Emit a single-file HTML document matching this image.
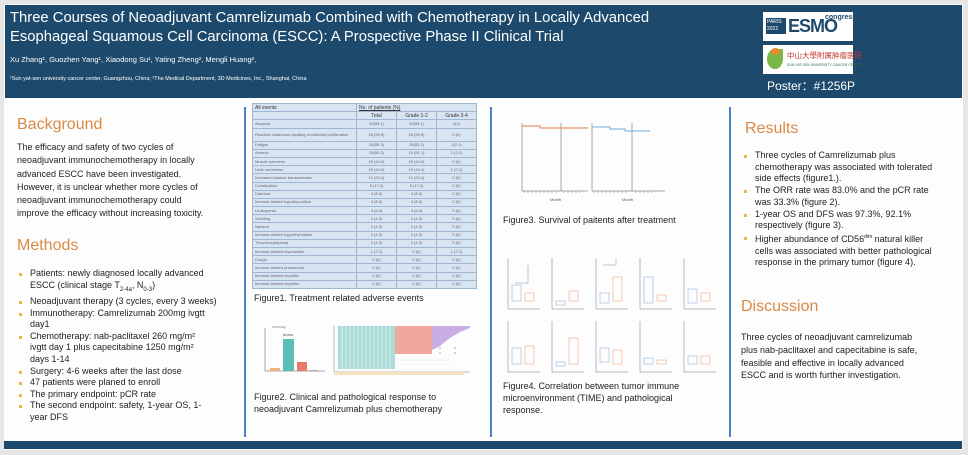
<!DOCTYPE html>
<html><head><meta charset="utf-8"><style>
*{margin:0;padding:0;box-sizing:border-box}
body{width:968px;height:455px;background:#e6e6e6;position:relative;overflow:hidden;font-family:"Liberation Sans",sans-serif;color:#222}
.poster{position:absolute;left:4px;top:4px;width:959px;height:446px;background:#fdfdfd}
.hdr{position:absolute;left:5px;top:5px;width:957px;height:93px;background:#1d4a6c;color:#fff}
.a{position:absolute;white-space:nowrap}
.h{color:#d98a45;font-size:16px}
.t{font-size:9px;line-height:13.3px;color:#222}
.vl{position:absolute;top:107px;width:2px;height:330px;background:#4f7fc4}
ul{list-style:none}
li{position:relative;padding-left:13px}
li:before{content:"";position:absolute;left:2px;top:5px;width:3px;height:3px;background:#e8b84a}
table{border-collapse:collapse;font-size:4px;line-height:6px;color:#667;table-layout:fixed}
td{border:1px solid #9fb6d3;height:8.2px;background:#d8e4f2;padding:0 2px;overflow:hidden;white-space:nowrap}
td.c{text-align:center}
.cap{font-size:9px;line-height:12px;color:#222}
</style></head><body>
<div class="poster"></div>
<div class="hdr">
<div class="a" style="left:5px;top:4px;font-size:14.8px;line-height:19px">Three Courses of Neoadjuvant Camrelizumab Combined with Chemotherapy in Locally Advanced<br>Esophageal Squamous Cell Carcinoma (ESCC): A Prospective Phase II Clinical Trial</div>
<div class="a" style="left:5px;top:50px;font-size:7.5px">Xu Zhang¹, Guozhen Yang¹, Xiaodong Su¹, Yating Zheng², Mengli Huang²,</div>
<div class="a" style="left:5px;top:71px;font-size:5.5px">¹Sun yat-sen university cancer center, Guangzhou, China; ²The Medical Department, 3D Medicines, Inc., Shanghai, China</div>
<div class="a" style="left:758px;top:7px;width:90px;height:29px;background:#fff">
<div class="a" style="left:3px;top:6px;width:20px;height:16px;background:#1d4a6c;color:#fff;font-size:5px;line-height:7px;padding:1px">PARIS<br>2022</div>
<div class="a" style="left:25px;top:4px;font-size:18px;font-weight:bold;color:#1d4a6c;letter-spacing:-1px">ESMO</div>
<div class="a" style="left:62px;top:2px;font-size:7px;color:#1d4a6c;font-weight:bold">congress</div></div>
<div class="a" style="left:758px;top:40px;width:90px;height:29px;background:#fff">
<div class="a" style="left:4px;top:4px;width:16px;height:20px;border-radius:50% 0 50% 50%;background:#7ab648"></div>
<div class="a" style="left:8px;top:3px;width:9px;height:7px;background:#e98c2c;border-radius:50%"></div>
<div class="a" style="left:24px;top:5px;font-size:7.5px;color:#c0392b;font-family:'Noto Sans CJK SC',sans-serif">中山大學附属肿瘤医院</div>
<div class="a" style="left:24px;top:18px;font-size:3.5px;color:#2a6a3a">SUN YAT-SEN UNIVERSITY CANCER CENTER</div></div>
<div class="a" style="left:762px;top:72px;font-size:12px;font-family:'Liberation Sans','Noto Sans CJK SC',sans-serif">Poster：#1256P</div>
</div>
<div class="vl" style="left:244px"></div><div class="vl" style="left:490px"></div><div class="vl" style="left:729px"></div>
<div class="a" style="left:4px;top:441px;width:958px;height:8px;background:#1d4a6c"></div>

<div class="a h" style="left:17px;top:116px">Background</div>
<div class="a t" style="left:17px;top:141px">The efficacy and safety of two cycles of<br>neoadjuvant immunochemotherapy in locally<br>advanced ESCC have been investigated.<br>However, it is unclear whether more cycles of<br>neoadjuvant immunochemotherapy could<br>improve the efficacy without increasing toxicity.</div>
<div class="a h" style="left:17px;top:237px">Methods</div>
<ul class="a t" style="left:17px;top:268px;line-height:11.6px">
<li>Patients: newly diagnosed locally advanced<br>ESCC (clinical stage T<sub style="font-size:6px">2-4a</sub>, N<sub style="font-size:6px">0-3</sub>)</li>
<li>Neoadjuvant therapy (3 cycles, every 3 weeks)</li>
<li>Immunotherapy: Camrelizumab 200mg ivgtt<br>day1</li>
<li>Chemotherapy: nab-paclitaxel 260 mg/m²<br>ivgtt day 1 plus capecitabine 1250 mg/m²<br>days 1-14</li>
<li>Surgery: 4-6 weeks after the last dose</li>
<li>47 patients were planed to enroll</li>
<li>The primary endpoint: pCR rate</li>
<li>The second endpoint: safety, 1-year OS, 1-<br>year DFS</li></ul>

<table class="a" style="left:252px;top:103px;width:224px">
<colgroup><col style="width:104px"><col style="width:40px"><col style="width:40px"><col style="width:40px"></colgroup>
<tr><td style="font-size:5px;color:#333">All events</td><td colspan="3" style="font-size:5px;color:#333;text-decoration:underline">No. of patients (%)</td></tr>
<tr><td></td><td class="c" style="font-size:5px;color:#333">Total</td><td class="c" style="font-size:5px;color:#333">Grade 1-2</td><td class="c" style="font-size:5px;color:#333">Grade 3-4</td></tr>
<tr><td>Alopecia</td><td class="c">33(68.1)</td><td class="c">33(68.1)</td><td class="c">0(0)</td></tr>
<tr><td style="height:13px;white-space:normal;line-height:5px">Reactive cutaneous capillary endothelial proliferation</td><td class="c">28 (59.6)</td><td class="c">28 (59.6)</td><td class="c">0 (0)</td></tr>
<tr><td>Fatigue</td><td class="c">26(55.3)</td><td class="c">25(53.2)</td><td class="c">1(2.1)</td></tr>
<tr><td>Anemia</td><td class="c">25(53.2)</td><td class="c">24 (51.1)</td><td class="c">1 (2.1)</td></tr>
<tr><td>Muscle soreness</td><td class="c">20 (42.6)</td><td class="c">20 (42.6)</td><td class="c">0 (0)</td></tr>
<tr><td>Limb numbness</td><td class="c">20 (42.6)</td><td class="c">19 (40.4)</td><td class="c">1 (2.1)</td></tr>
<tr><td>Increased alanine transaminase</td><td class="c">11 (23.4)</td><td class="c">11 (23.4)</td><td class="c">0 (0)</td></tr>
<tr><td>Constipation</td><td class="c">8 (17.0)</td><td class="c">8 (17.0)</td><td class="c">0 (0)</td></tr>
<tr><td>Diarrhea</td><td class="c">4 (8.5)</td><td class="c">4 (8.5)</td><td class="c">0 (0)</td></tr>
<tr><td>Immune-related hypothyroidism</td><td class="c">4 (8.5)</td><td class="c">4 (8.5)</td><td class="c">0 (0)</td></tr>
<tr><td>Leukopenia</td><td class="c">3 (6.4)</td><td class="c">3 (6.4)</td><td class="c">0 (0)</td></tr>
<tr><td>Vomiting</td><td class="c">2 (4.3)</td><td class="c">2 (4.3)</td><td class="c">0 (0)</td></tr>
<tr><td>Nausea</td><td class="c">2 (4.3)</td><td class="c">2 (4.3)</td><td class="c">0 (0)</td></tr>
<tr><td>Immune-related hyperthyroidism</td><td class="c">2 (4.3)</td><td class="c">2 (4.3)</td><td class="c">0 (0)</td></tr>
<tr><td>Thrombocytopenia</td><td class="c">2 (4.3)</td><td class="c">2 (4.3)</td><td class="c">0 (0)</td></tr>
<tr><td>Immune-related myocarditis</td><td class="c">1 (2.1)</td><td class="c">0 (0)</td><td class="c">1 (2.1)</td></tr>
<tr><td>Cough</td><td class="c">0 (0)</td><td class="c">0 (0)</td><td class="c">0 (0)</td></tr>
<tr><td>Immune-related pneumonia</td><td class="c">0 (0)</td><td class="c">0 (0)</td><td class="c">0 (0)</td></tr>
<tr><td>Immune-related hepatitis</td><td class="c">0 (0)</td><td class="c">0 (0)</td><td class="c">0 (0)</td></tr>
<tr><td>Immune-related nephritis</td><td class="c">0 (0)</td><td class="c">0 (0)</td><td class="c">0 (0)</td></tr>
</table>
<div class="a cap" style="left:254px;top:292px">Figure1. Treatment related adverse events</div>

<svg class="a" style="left:250px;top:320px" width="240" height="60">
<g stroke="#555" stroke-width="0.5" fill="none"><path d="M15 8V51H75"/><path d="M22 7H35V9"/></g>
<rect x="20" y="48" width="10" height="3" fill="#f0b27a"/>
<rect x="33" y="19" width="11" height="32" fill="#5bbfb5"/>
<rect x="47" y="42" width="10" height="9" fill="#e8796a"/>
<rect x="60" y="50" width="8" height="1" fill="#aaa"/>
<text x="33" y="16" font-size="3" fill="#333">80.85%</text>
<rect x="88" y="6" width="57" height="43" fill="#a8dcd8"/>
<g stroke="#fff" stroke-width="0.6"><path d="M92 6V49M96 6V49M100 6V49M104 6V49M108 6V49M112 6V49M116 6V49M120 6V49M124 6V49M128 6V49M132 6V49M136 6V49M140 6V49"/></g>
<rect x="145" y="6" width="37" height="28" fill="#f0a89d"/>
<path d="M182 6H220V8L210 12L200 18L190 26L182 30Z" fill="#c9aee6"/>
<path d="M84 6V52M84 52H220" stroke="#777" stroke-width="0.5"/>
<path d="M84 40H200M84 44H200" stroke="#ddd" stroke-width="0.4"/>
<rect x="84" y="52" width="130" height="3" fill="#f6e3c0"/>
<g fill="#999"><circle cx="190" cy="28" r="0.8"/><circle cx="205" cy="28" r="0.8"/><circle cx="190" cy="33" r="0.8"/><circle cx="205" cy="33" r="0.8"/></g>
</svg>
<div class="a cap" style="left:254px;top:391px">Figure2. Clinical and pathological response to<br>neoadjuvant Camrelizumab plus chemotherapy</div>

<svg class="a" style="left:500px;top:113px" width="225" height="95">
<g stroke="#555" stroke-width="0.5" fill="none"><path d="M22 10V78H88M92 10V78H165"/>
<path d="M61 10V78M132 10V78"/></g>
<path d="M22 13H40V15H88" stroke="#e8956a" stroke-width="1.2" fill="none"/>
<path d="M92 14H110V16H125V18H150" stroke="#6aaed6" stroke-width="1" fill="none"/>
<g font-size="4" fill="#555"><text x="50" y="88">Month</text><text x="122" y="88">Month</text></g>
<g stroke="#555" stroke-width="0.4"><path d="M24 78v2M28 78v2M32 78v2M36 78v2M40 78v2M44 78v2M48 78v2M52 78v2M56 78v2M64 78v2M68 78v2M72 78v2M76 78v2M80 78v2M94 78v2M98 78v2M102 78v2M106 78v2M110 78v2M114 78v2M118 78v2M122 78v2M126 78v2M136 78v2M140 78v2M144 78v2M148 78v2M152 78v2"/></g>
</svg>
<div class="a cap" style="left:503px;top:214px">Figure3. Survival of paitents after treatment</div>

<svg class="a" style="left:500px;top:253px" width="225" height="125">
<g stroke-width="0.5" fill="none">
<path d="M8 5V56H40" stroke="#777"/><path d="M15 30H28V12" stroke="#888"/>
<rect x="12" y="32" width="9" height="16" stroke="#7aa6d6"/><rect x="25" y="40" width="9" height="8" stroke="#e8956a"/>
<g transform="translate(44,0)"><path d="M8 5V56H40" stroke="#777"/><rect x="12" y="48" width="9" height="4" stroke="#7aa6d6"/><rect x="25" y="38" width="9" height="10" stroke="#e8956a"/></g>
<g transform="translate(88,0)"><path d="M8 5V56H40" stroke="#777"/><path d="M15 12H28V5" stroke="#888"/><rect x="12" y="40" width="9" height="10" stroke="#7aa6d6"/><rect x="25" y="24" width="9" height="24" stroke="#e8956a"/></g>
<g transform="translate(132,0)"><path d="M8 5V56H40" stroke="#777"/><rect x="12" y="24" width="9" height="26" stroke="#7aa6d6"/><rect x="25" y="42" width="9" height="6" stroke="#e8956a"/></g>
<g transform="translate(176,0)"><path d="M8 5V56H40" stroke="#777"/><rect x="12" y="36" width="9" height="14" stroke="#7aa6d6"/><rect x="25" y="40" width="9" height="8" stroke="#e8956a"/></g>
<g transform="translate(0,63)">
<path d="M8 5V56H40" stroke="#777"/><rect x="12" y="32" width="9" height="16" stroke="#7aa6d6"/><rect x="25" y="30" width="9" height="18" stroke="#e8956a"/>
<g transform="translate(44,0)"><path d="M8 5V56H40" stroke="#777"/><rect x="12" y="46" width="9" height="4" stroke="#7aa6d6"/><rect x="25" y="22" width="9" height="26" stroke="#e8956a"/></g>
<g transform="translate(88,0)"><path d="M8 5V56H40" stroke="#777"/><rect x="12" y="32" width="9" height="14" stroke="#7aa6d6"/><rect x="25" y="34" width="9" height="14" stroke="#e8956a"/></g>
<g transform="translate(132,0)"><path d="M8 5V56H40" stroke="#777"/><rect x="12" y="42" width="9" height="6" stroke="#7aa6d6"/><rect x="25" y="44" width="9" height="4" stroke="#e8956a"/></g>
<g transform="translate(176,0)"><path d="M8 5V56H40" stroke="#777"/><rect x="12" y="40" width="9" height="8" stroke="#7aa6d6"/><rect x="25" y="40" width="9" height="8" stroke="#e8956a"/></g>
</g></g></svg>
<div class="a cap" style="left:503px;top:380px">Figure4. Correlation between tumor immune<br>microenvironment (TIME) and pathological<br>response.</div>

<div class="a h" style="left:745px;top:120px">Results</div>
<ul class="a t" style="left:742px;top:150px;line-height:11.7px">
<li>Three cycles of Camrelizumab plus<br>chemotherapy was associated with tolerated<br>side effects (figure1.).</li>
<li>The ORR rate was 83.0% and the pCR rate<br>was 33.3% (figure 2).</li>
<li>1-year OS and DFS was 97.3%, 92.1%<br>respectively (figure 3).</li>
<li>Higher abundance of CD56<sup style="font-size:5px">dim</sup> natural killer<br>cells was associated with better pathological<br>response in the primary tumor (figure 4).</li></ul>
<div class="a h" style="left:741px;top:298px">Discussion</div>
<div class="a t" style="left:741px;top:331px;line-height:12.8px">Three cycles of neoadjuvant camrelizumab<br>plus nab-paclitaxel and capecitabine is safe,<br>feasible and effective in locally advanced<br>ESCC and is worth further investigation.</div>
</body></html>
